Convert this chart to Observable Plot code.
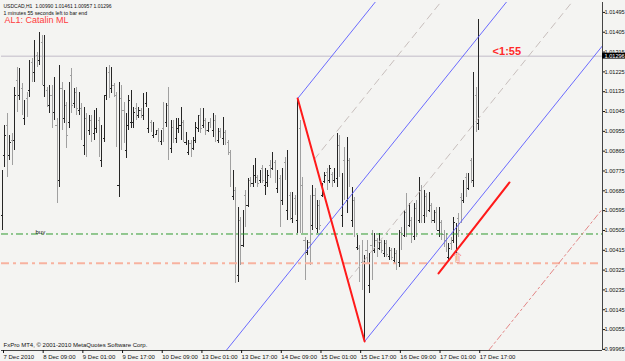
<!DOCTYPE html>
<html>
<head>
<meta charset="utf-8">
<script src="https://cdn.jsdelivr.net/npm/d3@7"></script>
<script src="https://cdn.jsdelivr.net/npm/@observablehq/plot@0.6"></script>
<style>
  html, body { margin: 0; padding: 0; background: #f4f4f2; }
  #chart svg { display: block; }
</style>
</head>
<body>
<div id="chart"></div>
<script>
// ---------- DATA (USDCAD H1) ----------
const symbol = "USDCAD,H1";
const timeLeftText = "1 minutes 55 seconds left to bar end";
const indicatorName = "AL1: Catalin ML";
const copyrightText = "FxPro MT4, \u00A9 2001-2010 MetaQuotes Software Corp.";

const xTickIdx = [0, 16, 32, 48, 64, 80, 96, 112, 128, 144, 160, 176, 192];
const xTickLabels = ["7 Dec 2010", "8 Dec 09:00", "9 Dec 01:00", "9 Dec 17:00", "10 Dec 09:00",
  "13 Dec 01:00", "13 Dec 17:00", "14 Dec 09:00", "15 Dec 01:00", "15 Dec 17:00",
  "16 Dec 09:00", "17 Dec 01:00", "17 Dec 17:00"];
const yTicks = [1.01495, 1.01405, 1.01315, 1.01225, 1.01135, 1.01045, 1.00955, 1.00865, 1.00775,
  1.00685, 1.00595, 1.00505, 1.00415, 1.00325, 1.00235, 1.00145, 1.00055, 0.99965];

const barOpen = [1.00573,1.00845,1.00982,1.00845,1.00913,1.00913,1.01186,1.01118,1.01150,1.01013,
1.01104,1.01140,1.01268,1.01222,1.01299,1.01277,1.01358,1.01163,1.01140,1.01072,
1.01118,1.01041,1.00982,1.00732,1.01150,1.01013,1.01072,1.00995,1.01209,1.01081,
1.01131,1.01050,1.01059,1.00891,1.01013,1.00959,1.01004,1.00945,1.00968,1.01004,
1.00823,1.00923,1.01118,1.01222,1.01150,1.01163,1.01118,1.00709,1.01104,1.01050,
1.00868,1.00982,1.00995,1.00995,1.01059,1.01027,1.01050,1.01027,1.01081,1.00968,
1.00995,1.00936,1.00941,1.00959,1.00909,1.00968,1.00995,1.01072,1.00877,1.00972,
1.00923,1.00968,1.00982,1.00995,1.00904,1.00859,1.00900,1.00877,1.00913,1.00968,
1.01027,1.00982,1.01004,1.00959,1.00995,1.00959,1.01004,1.00913,1.00954,1.00923,
1.00950,1.00904,1.00859,1.00659,1.00686,1.00300,1.00550,1.00437,1.00664,1.00618,
1.00732,1.00718,1.00755,1.00745,1.00732,1.00786,1.00709,1.00723,1.00800,1.00786,
1.00814,1.00696,1.00741,1.00641,1.00814,1.00596,1.00664,1.00559,1.00650,1.00550,
1.00968,1.00709,1.00459,1.00405,1.00450,1.00528,1.00664,1.00514,1.00618,1.00664,
1.00727,1.00768,1.00732,1.00759,1.00732,1.00741,1.00891,1.00573,1.00823,1.00641,
1.00823,1.00550,1.00641,1.00428,1.00423,1.00359,1.00015,1.00414,1.00255,1.00437,
1.00414,1.00459,1.00423,1.00450,1.00400,1.00446,1.00387,1.00414,1.00369,1.00400,
1.00359,1.00496,1.00482,1.00587,1.00528,1.00550,1.00478,1.00605,1.00550,1.00686,
1.00573,1.00659,1.00596,1.00618,1.00550,1.00587,1.00505,1.00541,1.00487,1.00459,
1.00382,1.00446,1.00459,1.00391,1.00559,1.00655,1.00641,1.00745,1.00696,1.00823,
1.00732,1.01118,1.00990];

const barHigh = [1.00777,1.00982,1.01036,1.00936,1.00945,1.01154,1.01245,1.01240,1.01172,1.01095,
1.01131,1.01277,1.01286,1.01367,1.01313,1.01404,1.01390,1.01390,1.01154,1.01163,
1.01163,1.01199,1.01013,1.01254,1.01177,1.01140,1.01086,1.01177,1.01240,1.01150,
1.01154,1.01131,1.01081,1.01063,1.01036,1.01027,1.01027,1.01050,1.01059,1.01018,
1.00982,1.01118,1.01245,1.01254,1.01245,1.01172,1.01131,1.01177,1.01163,1.01086,
1.01036,1.01118,1.01140,1.01063,1.01081,1.01063,1.01059,1.01127,1.01131,1.01059,
1.01004,1.00995,1.00959,1.00968,1.00959,1.01086,1.01081,1.01154,1.01004,1.01004,
1.01013,1.01013,1.01063,1.01004,1.00950,1.00913,1.00913,1.00927,1.00995,1.01027,
1.01059,1.01059,1.01013,1.00995,1.01013,1.01036,1.01027,1.00968,1.00968,1.01018,
1.00959,1.00913,1.00868,1.00777,1.00700,1.00609,1.00564,1.00596,1.00686,1.00741,
1.00745,1.00800,1.00832,1.00755,1.00777,1.00800,1.00786,1.00777,1.00823,1.00859,
1.00823,1.00777,1.00755,1.00786,1.00836,1.00868,1.00677,1.00677,1.00664,1.01104,
1.01004,1.00745,1.00473,1.00459,1.00664,1.00709,1.00696,1.00641,1.00641,1.00718,
1.00768,1.00786,1.00800,1.00768,1.00786,1.00945,1.00936,1.00764,1.00882,1.00927,
1.00832,1.00700,1.00655,1.00482,1.00437,1.00459,1.00391,1.00459,1.00400,1.00505,
1.00491,1.00469,1.00491,1.00459,1.00459,1.00459,1.00428,1.00423,1.00423,1.00414,
1.00505,1.00518,1.00596,1.00673,1.00627,1.00564,1.00627,1.00641,1.00745,1.00709,
1.00686,1.00673,1.00677,1.00627,1.00596,1.00609,1.00609,1.00550,1.00505,1.00491,
1.00446,1.00473,1.00564,1.00537,1.00582,1.00673,1.00732,1.00764,1.00764,1.00832,
1.01222,1.01154,1.01461];

const barLow = [1.00505,1.00791,1.00745,1.00823,1.00800,1.00868,1.01041,1.01095,1.01027,1.00982,
1.01018,1.01109,1.01177,1.01177,1.01245,1.01254,1.01163,1.01109,1.01063,1.01036,
1.00968,1.01004,1.00627,1.00700,1.00959,1.00991,1.00877,1.00968,1.01036,1.01059,
1.01027,1.01027,1.00913,1.00845,1.00836,1.00936,1.00904,1.00913,1.00945,1.00836,
1.00791,1.00904,1.01095,1.01104,1.01127,1.01109,1.00882,1.00655,1.00868,1.00900,
1.00832,1.00959,1.00968,1.00968,1.01004,1.01013,1.01013,1.01004,1.01063,1.00945,
1.00950,1.00923,1.00936,1.00904,1.00891,1.00904,1.00972,1.00823,1.00854,1.00900,
1.00900,1.00945,1.00913,1.00904,1.00891,1.00845,1.00836,1.00868,1.00900,1.00950,
1.00945,1.00968,1.00936,1.00950,1.00968,1.00927,1.00904,1.00900,1.00923,1.00891,
1.00891,1.00845,1.00700,1.00641,1.00264,1.00269,1.00346,1.00428,1.00518,1.00609,
1.00700,1.00700,1.00718,1.00700,1.00718,1.00718,1.00664,1.00700,1.00741,1.00777,
1.00718,1.00673,1.00518,1.00618,1.00732,1.00550,1.00550,1.00537,1.00573,1.00491,
1.00491,1.00491,1.00278,1.00391,1.00346,1.00505,1.00514,1.00491,1.00505,1.00655,
1.00718,1.00686,1.00718,1.00700,1.00718,1.00700,1.00745,1.00518,1.00641,1.00582,
1.00700,1.00518,1.00473,1.00414,1.00269,1.00232,1.00001,1.00355,1.00219,1.00278,
1.00400,1.00382,1.00414,1.00400,1.00382,1.00382,1.00369,1.00369,1.00355,1.00323,
1.00337,1.00414,1.00473,1.00473,1.00518,1.00446,1.00459,1.00473,1.00537,1.00537,
1.00537,1.00564,1.00587,1.00537,1.00537,1.00505,1.00473,1.00459,1.00428,1.00405,
1.00369,1.00414,1.00446,1.00369,1.00473,1.00537,1.00627,1.00655,1.00686,1.00718,
1.00700,1.00950,1.00957];

const barClose = [1.00677,1.00936,1.00823,1.00904,1.00845,1.01118,1.01095,1.01209,1.01059,1.01072,
1.01050,1.01254,1.01209,1.01299,1.01263,1.01367,1.01209,1.01322,1.01086,1.01131,
1.01013,1.01163,1.00923,1.01163,1.01004,1.01104,1.00936,1.01131,1.01072,1.01131,
1.01059,1.01109,1.00959,1.01027,1.00877,1.01004,1.00936,1.01027,1.01041,1.00868,
1.00950,1.01095,1.01222,1.01140,1.01222,1.01118,1.00913,1.01095,1.00913,1.00936,
1.00982,1.01095,1.01095,1.01041,1.01027,1.01050,1.01027,1.01104,1.01113,1.01036,
1.00959,1.00977,1.00954,1.00923,1.00945,1.00923,1.01059,1.00868,1.00968,1.00923,
1.00995,1.00995,1.01041,1.00923,1.00936,1.00900,1.00859,1.00913,1.00972,1.01013,
1.00968,1.01041,1.00959,1.00982,1.00977,1.01013,1.00923,1.00950,1.00932,1.00995,
1.00904,1.00859,1.00732,1.00709,1.00314,1.00573,1.00391,1.00573,1.00573,1.00709,
1.00709,1.00777,1.00800,1.00718,1.00759,1.00732,1.00768,1.00755,1.00755,1.00841,
1.00741,1.00750,1.00573,1.00755,1.00755,1.00800,1.00573,1.00650,1.00587,1.00968,
1.00528,1.00514,1.00300,1.00446,1.00414,1.00664,1.00541,1.00605,1.00528,1.00700,
1.00755,1.00705,1.00786,1.00714,1.00768,1.00891,1.00777,1.00709,1.00677,1.00868,
1.00723,1.00641,1.00496,1.00459,1.00300,1.00255,1.00346,1.00378,1.00359,1.00332,
1.00469,1.00405,1.00473,1.00414,1.00446,1.00396,1.00414,1.00382,1.00405,1.00346,
1.00482,1.00437,1.00573,1.00514,1.00605,1.00469,1.00596,1.00505,1.00709,1.00573,
1.00664,1.00596,1.00650,1.00559,1.00577,1.00523,1.00587,1.00478,1.00441,1.00423,
1.00423,1.00423,1.00541,1.00505,1.00505,1.00573,1.00709,1.00677,1.00750,1.00741,
1.01163,1.00991,1.01296];

// horizontal levels
const buyLevel = 1.00489;
const stopLevel = 1.00356;

// pitchfork anchors (bar index, price) and slope per bar
const forkA = {i: 119, price: 1.01104};
const forkB = {i: 146, price: 1.00001};
const forkSlope = 0.00014;

// red signal line, arrow, timer label
const signalLine = [{i: 175.8, price: 1.00310}, {i: 204.4, price: 1.00723}];
const arrowPos = {i: 183.45, price: 1.00382};
const timerText = "<1:55";
const timerPos = {i: 197.6, price: 1.01318};
const buyText = "buy";
const buyTextIdx = 13.3;

// ---------- BUILD ----------
const xDomain = [-0.4, 241.9];
const yDomain = [0.9996, 1.0154];
const fmt = d3.format(".5f");
const bars = barOpen.map((o, i) => ({i, open: o, high: barHigh[i], low: barLow[i], close: barClose[i]}));
const last = bars[bars.length - 1];
const upColor = "#262626", downColor = "#a0a0a0";
const barColor = d => d.close >= d.open ? upColor : downColor;

function ray(p, i0, i1, name) {
  return [{i: i0, price: p.price + (i0 - p.i) * forkSlope, name},
          {i: i1, price: p.price + (i1 - p.i) * forkSlope, name}];
}
const lerp = (a, b, t) => ({i: a.i + (b.i - a.i) * t, price: a.price + (b.price - a.price) * t});
const forkM = lerp(forkA, forkB, 0.5);
const forkQ1 = lerp(forkA, forkB, 0.25);
const forkQ3 = lerp(forkA, forkB, 0.75);
const forkW = lerp(forkA, forkB, 1.5);

const blueLines = [...ray(forkA, forkA.i, forkA.i + 60, "up"), ...ray(forkB, forkB.i, 262, "lo"), ...ray(forkM, 60, 262, "mid")];
const grayLines = [...ray(forkQ1, forkQ1.i, 262, "q1"), ...ray(forkQ3, forkQ3.i, 262, "q3")];
const warnLine = ray(forkW, 150, 262, "w");
const handle = [forkA, forkB];

const headerLine1 = `${symbol}  ${fmt(last.open)} ${fmt(last.high)} ${fmt(last.low)} ${fmt(last.close)}`;

const chart = Plot.plot({
  width: 625,
  height: 361,
  marginLeft: 1,
  marginRight: 23,
  marginTop: 2,
  marginBottom: 11,
  x: {domain: xDomain},
  y: {domain: yDomain},
  style: {background: "#f4f4f2", fontFamily: "'Liberation Sans', Arial, sans-serif", fontSize: "6px", color: "#111", overflow: "visible"},
  marks: [
    // current price line
    Plot.ruleY([last.close], {stroke: "#d2ced6", strokeWidth: 1.5}),
    // bars
    Plot.ruleX(bars, {x: "i", y1: "low", y2: "high", stroke: barColor, shapeRendering: "crispEdges"}),
    Plot.ruleY(bars, {y: "open", x1: d => d.i - 0.45, x2: "i", stroke: barColor, shapeRendering: "crispEdges"}),
    Plot.ruleY(bars, {y: "close", x1: "i", x2: d => d.i + 0.45, stroke: barColor, shapeRendering: "crispEdges"}),
    // horizontal levels
    Plot.ruleY([buyLevel], {stroke: "#2f9a2f", strokeDasharray: "7,3,2,3"}),
    Plot.ruleY([stopLevel], {stroke: "#f7b2a0", strokeWidth: 2, strokeDasharray: "8,4,3,4"}),
    Plot.text([buyText], {x: buyTextIdx, y: buyLevel, text: d => d, textAnchor: "start", lineAnchor: "bottom", dy: 0, fontSize: 6, fill: "#111"}),
    // pitchfork
    Plot.line(grayLines, {x: "i", y: "price", z: "name", stroke: "#c2b8b6", strokeWidth: 0.9, strokeDasharray: "7,5", clip: true}),
    Plot.line(blueLines, {x: "i", y: "price", z: "name", stroke: "#5a5aff", strokeWidth: 0.9, clip: true}),
    Plot.line(warnLine, {x: "i", y: "price", stroke: "#e07a7a", strokeWidth: 0.9, strokeDasharray: "6,3,2,3", clip: true}),
    Plot.line(handle, {x: "i", y: "price", stroke: "#ff1a1a", strokeWidth: 2}),
    // signal line and arrow
    Plot.line(signalLine, {x: "i", y: "price", stroke: "#ff1a1a", strokeWidth: 2}),
    Plot.text([arrowPos], {x: "i", y: "price", text: () => "\u21E7", fontSize: 13, fill: "#fbeeee", stroke: "#f07c6c", strokeWidth: 0.8, fontFamily: "DejaVu Sans"}),
    // timer
    Plot.text([timerPos], {x: "i", y: "price", text: () => timerText, textAnchor: "start", fontSize: 11, fontWeight: "bold", fill: "#ff2a2a", fontFamily: "'Liberation Sans', Arial"}),
    // header texts
    Plot.text([headerLine1], {frameAnchor: "top-left", text: d => d, dx: 2, dy: 4, textAnchor: "start", lineAnchor: "middle", fontSize: 5, fill: "#111"}),
    Plot.text([timeLeftText], {frameAnchor: "top-left", text: d => d, dx: 2, dy: 11, textAnchor: "start", lineAnchor: "middle", fontSize: 5.2, fill: "#111"}),
    Plot.text([indicatorName], {frameAnchor: "top-left", text: d => d, dx: 3, dy: 18, textAnchor: "start", lineAnchor: "middle", fontSize: 9, fill: "#ff3b3b"}),
    Plot.text([copyrightText], {frameAnchor: "bottom-left", text: d => d, dx: 2, dy: -5, textAnchor: "start", lineAnchor: "middle", fontSize: 6, fill: "#111"}),
    // axes
    Plot.ruleX([xDomain[1]], {stroke: "#444"}),
    Plot.ruleY([yDomain[0]], {stroke: "#444"}),
    Plot.axisX(xTickIdx, {tickFormat: d => xTickLabels[xTickIdx.indexOf(d)], textAnchor: "start", dx: 1, tickSize: 3, tickPadding: 1, label: null, fontSize: 6}),
    Plot.axisY(yTicks, {anchor: "right", tickFormat: fmt, tickSize: 2, tickPadding: 0, label: null, fontSize: 5.6}),
    // current price label on axis
    Plot.rect([last], {x1: xDomain[1], x2: xDomain[1] + 9.4, y1: d => d.close - 0.00013, y2: d => d.close + 0.00014, fill: "#000"}),
    Plot.text([last], {x: xDomain[1], y: "close", text: d => fmt(d.close), textAnchor: "start", dx: 2, fill: "#fff", fontSize: 5.6})
  ]
});
document.getElementById("chart").appendChild(chart);
</script>
</body>
</html>
